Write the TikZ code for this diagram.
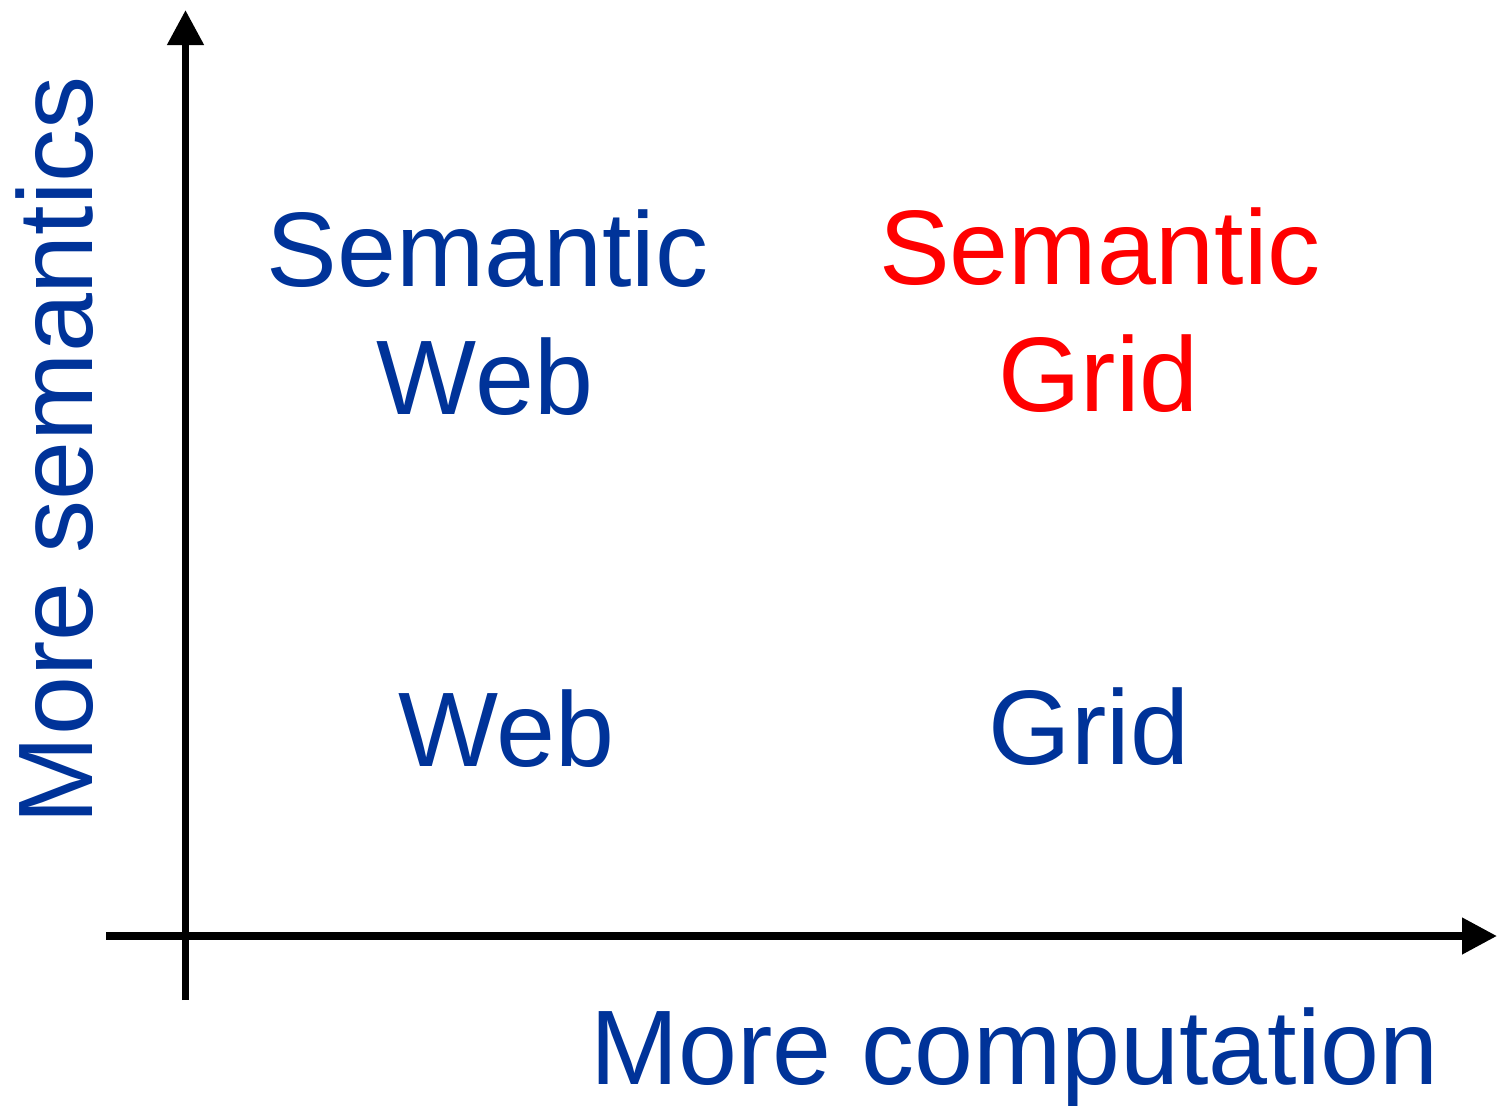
\documentclass[tikz,border=0pt]{standalone}
\usepackage{fontspec}
\setmainfont{Liberation Sans}
\usetikzlibrary{arrows.meta}
\definecolor{axisblue}{RGB}{0,51,153}
\definecolor{gridred}{RGB}{255,0,0}
\tikzset{
  lbl/.style={font=\fontsize{53}{60}\selectfont, anchor=base, inner sep=0pt, outer sep=0pt},
  axis/.style={line width=3.8pt, draw=black, -{Triangle[length=17.5pt 0 0, width=17.5pt 0 0]}},
}
\begin{document}
\begin{tikzpicture}[x=0.5pt, y=-0.5pt]
\useasboundingbox (0,0) rectangle (1500,1108);
\coordinate (ystart) at (185.5,1000);
\coordinate (yend) at (185.5,10);
\coordinate (xstart) at (106,936);
\coordinate (xend) at (1497,936);
\draw[axis] (ystart) -- (yend);
\draw[axis] (xstart) -- (xend);
\node[lbl, text=axisblue] (sw1) at (487.5,286) {Semantic};
\node[lbl, text=axisblue] (sw2) at (485,414) {Web};
\node[lbl, text=gridred] (sg1) at (1100,284) {Semantic};
\node[lbl, text=gridred] (sg2) at (1098.5,411) {Grid};
\node[lbl, text=axisblue] (web) at (506.5,766) {Web};
\node[lbl, text=axisblue] (grid) at (1089,764) {Grid};
\node[lbl, text=axisblue] (xlab) at (1014.5,1084) {More computation};
\node[lbl, text=axisblue, rotate=90] (ylab) at (92,450) {More semantics};
\end{tikzpicture}
\end{document}
